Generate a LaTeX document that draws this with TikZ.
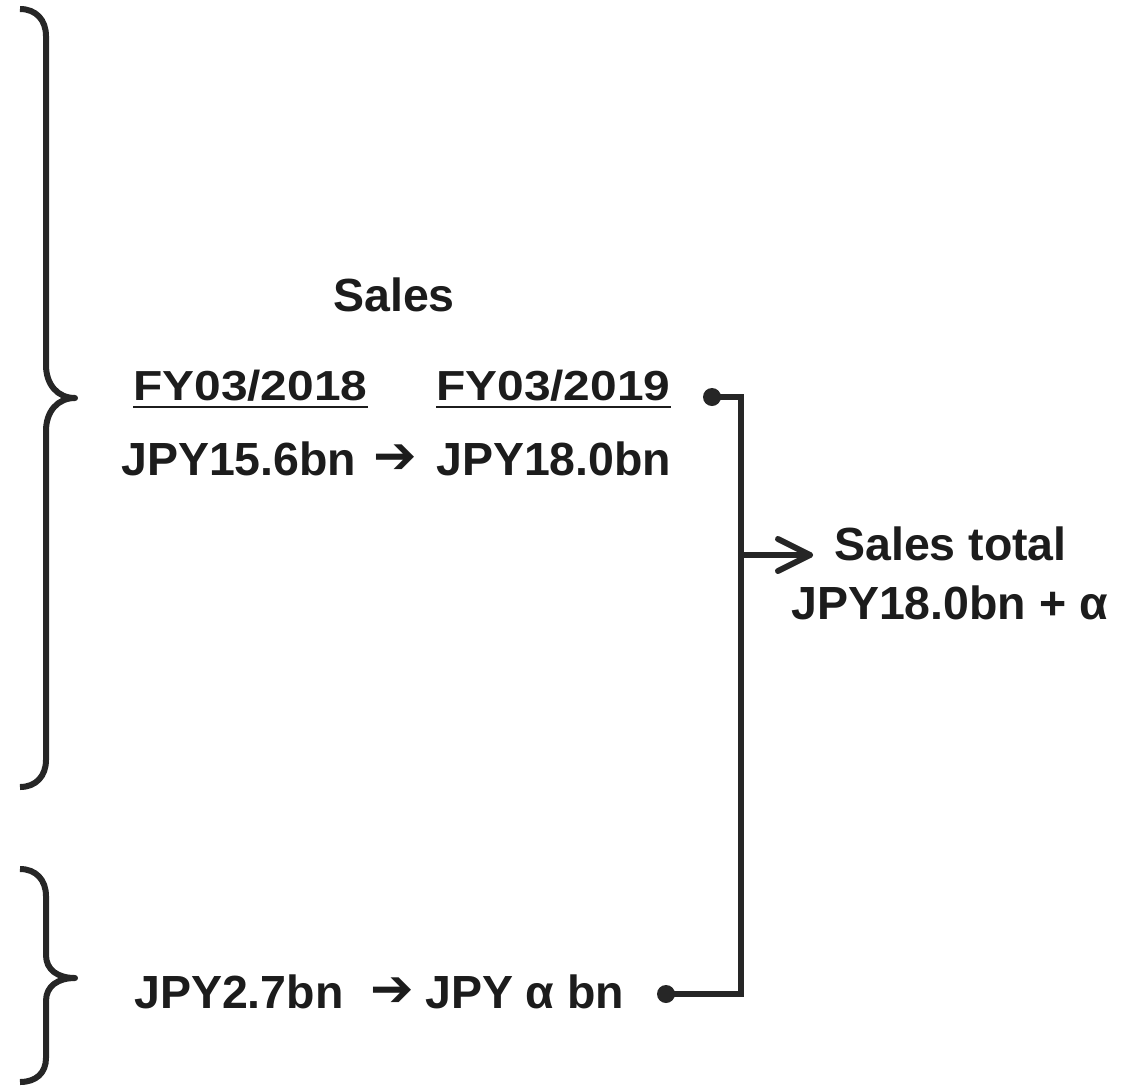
\documentclass[tikz,border=0pt]{standalone}
\usepackage{fontspec}
\setmainfont{Liberation Sans}
\newfontfamily\symfont{DejaVu Sans}
\definecolor{ink}{HTML}{1C1C1C}
\definecolor{linec}{HTML}{262626}
\begin{document}
\begin{tikzpicture}[x=1pt,y=-1pt,
  txt/.style={inner sep=0pt, anchor=base west, text=ink, font=\bfseries\fontsize{46.5}{50}\selectfont},
  fytxt/.style={inner sep=0pt, anchor=base west, text=ink, font=\bfseries\fontsize{42}{46}\selectfont},
  arr/.style={inner sep=0pt, anchor=center, text=ink, font=\symfont\bfseries\fontsize{52}{52}\selectfont},
  brace/.style={draw=linec, line width=6pt, line cap=butt, line join=round},
  conn/.style={draw=linec, line width=6pt, line cap=round, line join=miter},
  ul/.style={draw=ink, line width=2.6pt},
  dot/.style={circle, fill=linec, inner sep=0pt, minimum size=18pt}]
\useasboundingbox (0,0) rectangle (1132,1085);

% braces
\draw[brace] (20,9) .. controls (36,9) and (46,20) .. (46,36) -- (46,365)
  .. controls (46,385) and (58,398) .. (75,398)
  .. controls (58,398) and (46,411) .. (46,431) -- (46,760)
  .. controls (46,776) and (36,787) .. (20,787);
\draw[brace] (20,869) .. controls (36,869) and (46,880) .. (46,896) -- (46,955)
  .. controls (46,970) and (58,978) .. (75,978)
  .. controls (58,978) and (46,986) .. (46,1001) -- (46,1058)
  .. controls (46,1073) and (36,1082) .. (20,1082);

% texts
\node[txt] (sales) at (333,311) {Sales};
\node[fytxt] (fy1) at (133,400) {\scalebox{1.14}[1]{FY03/2018}};
\node[fytxt] (fy2) at (436,400) {\scalebox{1.14}[1]{FY03/2019}};
\draw[ul] ([yshift=-7pt]fy1.base west) -- ([yshift=-7pt]fy1.base east);
\draw[ul] ([yshift=-7pt]fy2.base west) -- ([yshift=-7pt]fy2.base east);
\node[txt] (v1) at (121,475) {JPY15.6bn};
\node[arr] (a1) at (395,459) {➔};
\node[txt] (v2) at (436,475) {JPY18.0bn};

\node[txt] (st) at (834,560) {Sales total};
\node[txt] (stv) at (791,619) {JPY18.0bn + α};

\node[txt] (w1) at (134,1008) {JPY2.7bn};
\node[arr] (a2) at (392,992) {➔};
\node[txt] (w2) at (425,1008) {JPY α bn};

% connectors
\node[dot] (d1) at (712,397) {};
\node[dot] (d2) at (666,994) {};
\coordinate (mid) at (741,555);
\coordinate (tip) at (810,555);
\draw[conn] (d1.center) -| (mid) -- (tip);
\draw[conn] (d2.center) -| (mid);
\draw[conn, line cap=round, line join=round] ([shift={(-32,-16)}]tip) -- (tip) -- ([shift={(-32,16)}]tip);
\end{tikzpicture}
\end{document}
